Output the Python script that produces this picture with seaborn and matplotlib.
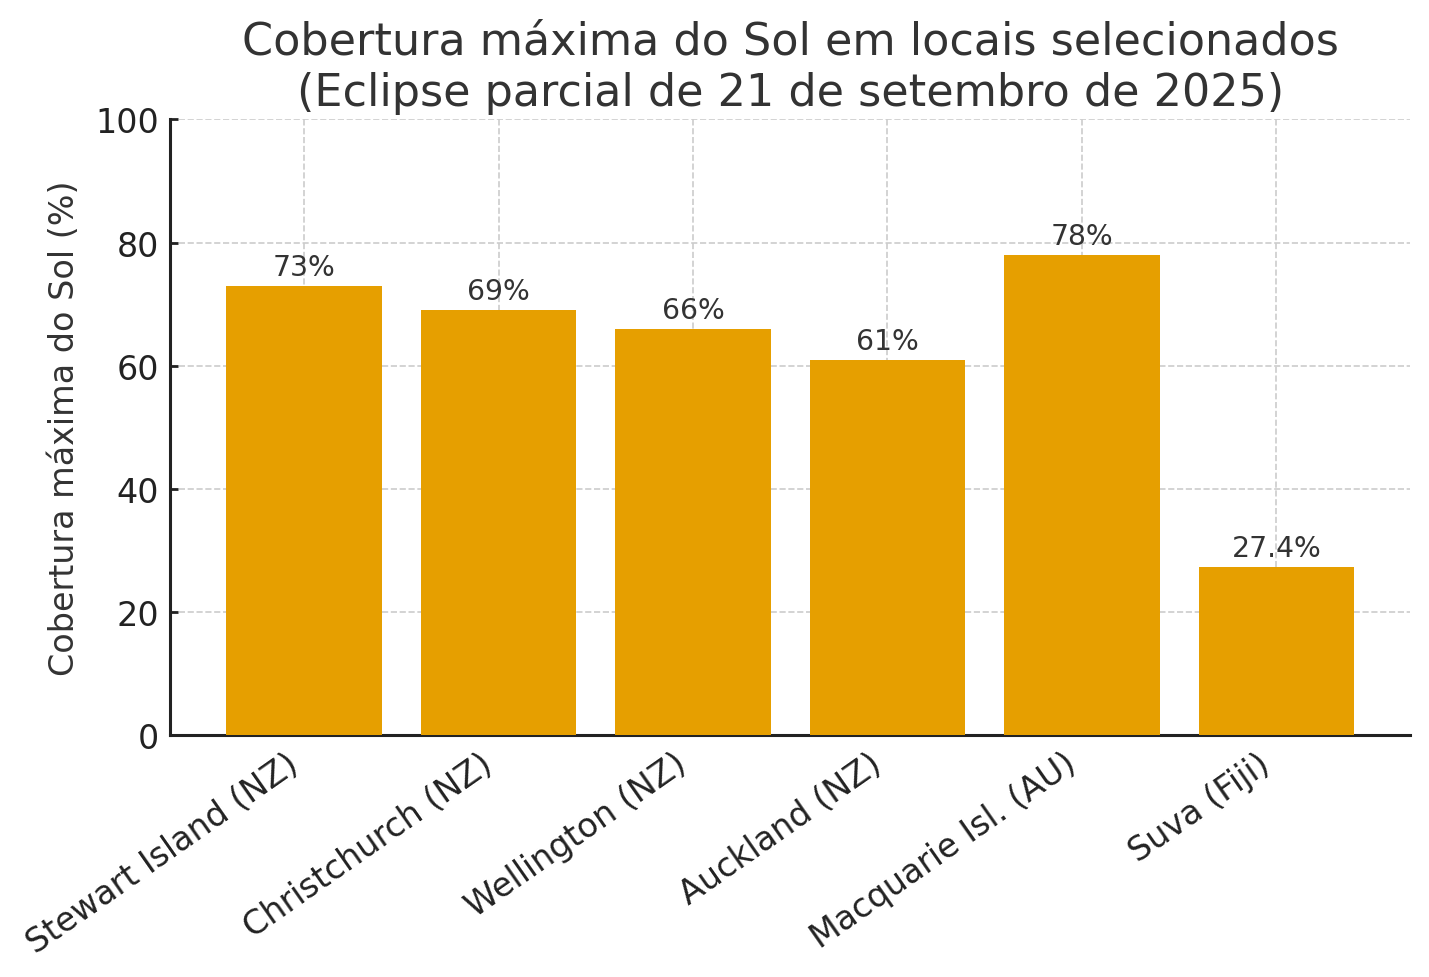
import matplotlib
matplotlib.use("Agg")
import matplotlib.pyplot as plt
import seaborn as sns
import pandas as pd

# -----------------------------
# Data
# -----------------------------

locais = [
    "Stewart Island (NZ)",
    "Christchurch (NZ)",
    "Wellington (NZ)",
    "Auckland (NZ)",
    "Macquarie Isl. (AU)",
    "Suva (Fiji)",
]
cobertura = [73, 69, 66, 61, 78, 27.4]
rotulos = ["73%", "69%", "66%", "61%", "78%", "27.4%"]

df = pd.DataFrame({"local": locais, "cobertura": cobertura})

# -----------------------------
# Plot
# -----------------------------

sns.set_style("ticks")
plt.rcParams["font.family"] = ["DejaVu Sans"]

fig, ax = plt.subplots(figsize=(7.145, 4.89), dpi=200)

sns.barplot(data=df, x="local", y="cobertura", color="#E69F00",
            saturation=1, width=0.8, linewidth=0, ax=ax, zorder=3)

for i, (v, t) in enumerate(zip(cobertura, rotulos)):
    ax.text(i, v + 0.8, t, ha="center", va="bottom", fontsize=10.2, color="#333333")

ax.set_ylim(0, 100)
ax.set_xlim(-0.69, 5.69)
ax.set_yticks([0, 20, 40, 60, 80, 100])
ax.grid(True, linestyle="--", color="#cccccc", linewidth=0.6, zorder=0)
ax.set_axisbelow(True)

ax.set_title("Cobertura máxima do Sol em locais selecionados\n(Eclipse parcial de 21 de setembro de 2025)",
             fontsize=16, color="#333333", linespacing=1.25, pad=5)
ax.set_xlabel("")
ax.set_ylabel("Cobertura máxima do Sol (%)", fontsize=12, color="#333333", labelpad=5)
ax.tick_params(axis="both", labelsize=12, colors="#222222", direction="in",
               length=3, width=1.0, pad=4)
plt.setp(ax.get_xticklabels(), rotation=35, ha="right")

sns.despine(ax=ax)
for s in ["left", "bottom"]:
    ax.spines[s].set_color("#222222")
    ax.spines[s].set_linewidth(1.1)

fig.subplots_adjust(left=0.119, right=0.987, top=0.877, bottom=0.247)
fig.savefig("out.png", dpi=200)
